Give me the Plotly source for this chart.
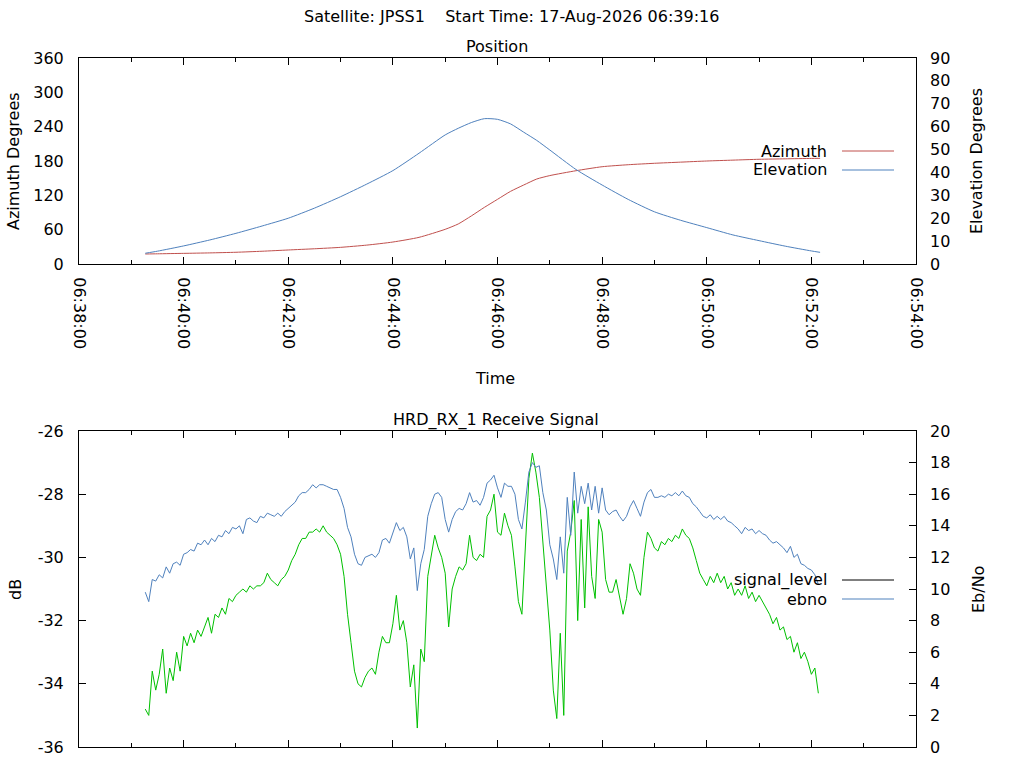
import plotly.graph_objects as go
import pandas as pd

# ---------------- data ----------------
DAY = "2026-08-17 "
pass_start = "06:39:16"

pos_times = ["06:39:16", "06:39:30", "06:40:00", "06:40:30", "06:41:00", "06:41:30",
             "06:42:00", "06:42:30", "06:43:00", "06:43:30", "06:44:00", "06:44:30",
             "06:45:00", "06:45:15", "06:45:30", "06:45:45", "06:46:00", "06:46:15",
             "06:46:30", "06:46:45", "06:47:00", "06:47:30", "06:48:00", "06:48:30",
             "06:49:00", "06:49:30", "06:50:00", "06:50:30", "06:51:00", "06:51:30",
             "06:52:00", "06:52:10"]
azimuth = [17.5, 17.8, 18.6, 19.4, 20.5, 22.3,
           24.5, 26.6, 29.1, 33.0, 38.4, 46.6,
           60.6, 70.0, 84.0, 99.0, 113.0, 127.0,
           138.0, 148.5, 154.5, 163.0, 170.0, 173.5,
           176.0, 178.0, 180.0, 181.5, 183.0, 183.8,
           184.5, 184.7]
elevation = [4.7, 5.6, 7.9, 10.5, 13.4, 16.6,
             20.0, 24.4, 29.4, 34.9, 40.8, 48.4,
             56.4, 59.3, 61.8, 63.5, 63.2, 61.2,
             57.6, 54.0, 49.8, 41.3, 34.5, 28.2,
             22.8, 19.1, 15.9, 12.7, 10.2, 7.8,
             5.7, 5.1]

# seconds after pass start for the receive-signal samples
signal_elapsed_s = [
    0, 4, 8, 12, 16, 20, 24, 28, 32, 36, 40, 44, 48, 52, 56, 60, 64, 68, 72, 76,
    80, 84, 88, 92, 96, 100, 104, 108, 112, 116, 120, 124, 128, 132, 136, 140, 144, 148, 152, 156,
    160, 164, 168, 172, 176, 180, 184, 188, 192, 196, 200, 204, 208, 212, 216, 220, 224, 228, 232, 236,
    240, 244, 248, 252, 256, 260, 264, 268, 272, 276, 280, 284, 288, 292, 296, 300, 304, 308, 312, 316,
    320, 324, 328, 332, 336, 340, 344, 348, 352, 356, 360, 364, 368, 372, 376, 380, 384, 388, 392, 396,
    400, 404, 408, 412, 416, 420, 424, 428, 432, 436, 440, 444, 448, 452, 456, 460, 464, 468, 472, 476,
    480, 484, 488, 492, 496, 500, 504, 508, 512, 516, 520, 524, 528, 532, 536, 540, 544, 548, 552, 556,
    560, 564, 568, 572, 576, 580, 584, 588, 592, 596, 600, 604, 608, 612, 616, 620, 624, 628, 632, 636,
    640, 644, 648, 652, 656, 660, 664, 668, 672, 676, 680, 684, 688, 692, 696, 700, 704, 708, 712, 716,
    720, 724, 728, 732, 736, 740, 744, 748, 752, 756, 760, 764, 768, 772]

ebno = [
    9.8, 9.2, 10.6, 10.5, 10.9, 10.7, 11.4, 11.0, 11.6, 11.7, 11.5, 12.2, 12.3, 12.5, 12.4, 12.9, 12.8, 13.1, 12.8, 13.2,
    13.0, 13.4, 13.3, 13.7, 13.5, 13.9, 13.8, 14.0, 13.5, 14.4, 14.5, 14.3, 14.2, 14.6, 14.5, 14.8, 14.7, 14.6, 14.8, 14.6,
    14.9, 15.1, 15.3, 15.5, 15.9, 16.1, 16.1, 16.3, 16.6, 16.4, 16.6, 16.6, 16.5, 16.4, 16.3, 16.3, 15.8, 15.1, 13.9, 13.3,
    12.2, 11.6, 11.5, 12.0, 12.1, 12.2, 12.0, 12.3, 13.1, 13.2, 12.9, 13.5, 14.2, 13.7, 13.9, 13.3, 11.9, 12.6, 9.9, 11.6,
    12.5, 14.6, 15.4, 16.0, 16.1, 15.8, 14.4, 13.6, 14.4, 14.9, 15.1, 15.0, 15.4, 16.1, 15.5, 15.6, 15.3, 15.8, 16.7, 16.9,
    17.2, 16.4, 15.8, 16.7, 16.5, 16.5, 16.0, 14.4, 13.8, 15.5, 17.4, 18.0, 17.7, 17.8, 16.1, 15.0, 12.8, 11.9, 10.6, 13.3,
    11.0, 15.8, 13.4, 17.4, 14.8, 16.5, 15.4, 16.7, 15.0, 16.5, 14.8, 16.4, 15.0, 14.7, 14.9, 15.0, 14.6, 14.3, 14.6, 15.2,
    15.6, 15.1, 14.6, 15.5, 16.1, 16.3, 15.8, 15.8, 15.9, 15.8, 16.0, 15.9, 16.1, 15.9, 16.2, 15.9, 15.8, 15.4, 15.2, 14.9,
    14.6, 14.5, 14.7, 14.4, 14.6, 14.4, 14.6, 14.3, 14.2, 14.0, 13.8, 13.5, 13.9, 13.7, 13.8, 13.5, 13.7, 13.5, 13.4, 13.1,
    12.9, 13.0, 12.8, 12.6, 12.3, 12.7, 12.0, 12.2, 11.6, 11.5, 11.3, 11.2, 10.9, 10.3]

rx_level_db = [
    -34.8, -35.0, -33.6, -34.2, -33.7, -32.9, -34.3, -33.5, -33.9, -33.0, -33.6, -32.5, -32.8, -32.4, -32.7, -32.3, -32.5, -32.2, -31.9, -32.4,
    -31.8, -31.9, -31.6, -31.8, -31.3, -31.4, -31.2, -31.1, -31.0, -31.1, -30.9, -31.0, -30.9, -30.9, -30.8, -30.5, -30.7, -30.8, -30.9, -30.7,
    -30.6, -30.4, -30.1, -29.9, -29.6, -29.4, -29.4, -29.2, -29.2, -29.1, -29.2, -29.0, -29.2, -29.3, -29.4, -29.6, -29.9, -30.6, -31.8, -32.7,
    -33.6, -34.0, -34.1, -33.8, -33.6, -33.5, -33.7, -33.0, -32.5, -32.7, -32.7, -32.1, -31.2, -32.3, -32.0, -32.7, -34.1, -33.4, -35.4, -32.9,
    -33.3, -30.6, -30.0, -29.3, -29.7, -30.0, -30.5, -32.2, -31.0, -30.6, -30.3, -30.4, -30.2, -29.3, -30.0, -30.1, -29.9, -30.0, -28.7, -28.5,
    -28.0, -29.2, -29.3, -28.6, -29.0, -29.3, -30.3, -31.4, -31.8, -29.5, -27.5, -26.7, -27.3, -28.1, -29.5, -31.0, -32.3, -34.2, -35.1, -32.4,
    -35.0, -29.8, -29.2, -28.2, -32.0, -28.8, -31.6, -28.4, -30.6, -31.3, -28.8, -29.2, -30.7, -31.1, -31.1, -30.7, -31.2, -31.8, -31.3, -30.2,
    -30.5, -31.0, -31.2, -30.0, -29.2, -29.4, -29.7, -29.8, -29.5, -29.6, -29.4, -29.5, -29.3, -29.4, -29.1, -29.3, -29.4, -29.7, -30.1, -30.5,
    -30.7, -30.9, -30.6, -30.8, -30.5, -30.8, -30.6, -31.0, -30.8, -31.2, -31.0, -31.2, -30.9, -31.3, -31.1, -31.4, -31.2, -31.4, -31.6, -31.8,
    -32.1, -31.9, -32.3, -32.2, -32.6, -32.5, -33.0, -32.7, -33.2, -33.0, -33.3, -33.7, -33.5, -34.3]

x_range = ["06:38:00", "06:54:00"]
az_ticks = [0, 60, 120, 180, 240, 300, 360]
el_ticks = [0, 10, 20, 30, 40, 50, 60, 70, 80, 90]
db_ticks = [-36, -34, -32, -30, -28, -26]
db_tick_text = ["-36", "-34", "-32", "-30", "-28", "-26"]
ebno_ticks = [0, 2, 4, 6, 8, 10, 12, 14, 16, 18, 20]

# ---------------- styles ----------------
RED = "#c0504d"
BLUE = "#4f81bd"
GREEN = "#00c000"
FONT = "DejaVu Sans"
FS = 16
W, H = 1024, 768


def px(x):
    return x / W


def py(y):
    return 1 - y / H


pos_t = pd.to_datetime([DAY + t for t in pos_times])
sig_t = pd.Timestamp(DAY + pass_start) + pd.to_timedelta(signal_elapsed_s, unit="s")
xr = [DAY + x_range[0], DAY + x_range[1]]

fig = go.Figure()
fig.add_trace(go.Scatter(x=pos_t, y=azimuth, name="Azimuth", mode="lines",
                         line=dict(color=RED, width=1, shape="spline", smoothing=0.6),
                         xaxis="x", yaxis="y"))
fig.add_trace(go.Scatter(x=pos_t, y=elevation, name="Elevation", mode="lines",
                         line=dict(color=BLUE, width=1, shape="spline", smoothing=0.6),
                         xaxis="x", yaxis="y2"))
fig.add_trace(go.Scatter(x=sig_t, y=rx_level_db, name="rx_level", mode="lines",
                         line=dict(color=GREEN, width=1), xaxis="x2", yaxis="y3"))
fig.add_trace(go.Scatter(x=sig_t, y=ebno, name="ebno", mode="lines",
                         line=dict(color=BLUE, width=1), xaxis="x2", yaxis="y4"))

dom_x = [px(79), px(916)]
top_dom = [py(264), py(58)]
bot_dom = [py(747), py(431)]

tf = dict(family=FONT, size=FS, color="black")
xcommon = dict(type="date", range=xr, tick0=xr[0], dtick=120000, tickformat="%H:%M:%S",
               ticks="inside", ticklen=7, tickcolor="black", showline=True, linecolor="black",
               linewidth=1, mirror="ticks", showgrid=False, zeroline=False, automargin=False,
               minor=dict(dtick=60000, ticks="inside", ticklen=4, tickcolor="black", showgrid=False),
               tickfont=tf)

fig.update_layout(
    width=W, height=H, margin=dict(l=0, r=0, t=0, b=0),
    paper_bgcolor="white", plot_bgcolor="white", showlegend=False,
    font=dict(family=FONT, size=FS, color="black"),
    xaxis=dict(domain=dom_x, anchor="y", tickangle=90, ticklabelstandoff=9, **xcommon),
    xaxis2=dict(domain=dom_x, anchor="y3", showticklabels=False, **xcommon),
    yaxis=dict(domain=top_dom, range=[0, 360], tickvals=az_ticks, ticks="", showline=True,
               linecolor="black", mirror=True, showgrid=False, zeroline=False, automargin=False,
               ticklabelstandoff=11, tickfont=tf),
    yaxis2=dict(overlaying="y", side="right", anchor="x", range=[0, 90], tickvals=el_ticks,
                ticks="", showgrid=False, zeroline=False, automargin=False, ticklabelstandoff=13,
                tickfont=tf),
    yaxis3=dict(domain=bot_dom, anchor="x2", range=[-36, -26], tickvals=db_ticks,
                ticktext=db_tick_text, ticks="inside",
                ticklen=7, tickcolor="black", showline=True, linecolor="black", mirror=True,
                showgrid=False, zeroline=False, automargin=False, ticklabelstandoff=11,
                tickfont=tf),
    yaxis4=dict(overlaying="y3", side="right", anchor="x2", range=[0, 20], tickvals=ebno_ticks,
                ticks="inside", ticklen=7, tickcolor="black", showgrid=False, zeroline=False,
                automargin=False, ticklabelstandoff=13, tickfont=tf),
)

texts = [
    ("Satellite: JPSS1    Start Time: 17-Aug-2026 06:39:16", 511, 17, 0, "center"),
    ("Position", 497, 46, 0, "center"),
    ("Time", 495, 379, 0, "center"),
    ("HRD_RX_1 Receive Signal", 496, 420, 0, "center"),
    ("Azimuth Degrees", 14, 161, -90, "center"),
    ("Elevation Degrees", 977, 161, -90, "center"),
    ("dB", 15, 590, -90, "center"),
    ("Eb/No", 978, 590, -90, "center"),
    ("Azimuth", 829, 151, 0, "right"),
    ("Elevation", 829, 170, 0, "right"),
    ("signal_level", 829, 580, 0, "right"),
    ("ebno", 829, 599, 0, "right"),
]
for t, x, y, ang, anc in texts:
    fig.add_annotation(text=t.replace("    ", "&nbsp;&nbsp;&nbsp;&nbsp;"), x=px(x), y=py(y),
                       xref="paper", yref="paper", showarrow=False, textangle=ang,
                       xanchor=anc, yanchor="middle", font=tf)

legend_keys = [(151, RED), (170, BLUE), (580, "black"), (599, BLUE)]
for y, c in legend_keys:
    fig.add_shape(type="line", xref="paper", yref="paper", x0=px(842), x1=px(894),
                  y0=py(y), y1=py(y), line=dict(color=c, width=1))

fig.write_html("out.html", config={"displayModeBar": False},
               post_script="document.body.style.margin='0';document.body.style.overflow='hidden';")
